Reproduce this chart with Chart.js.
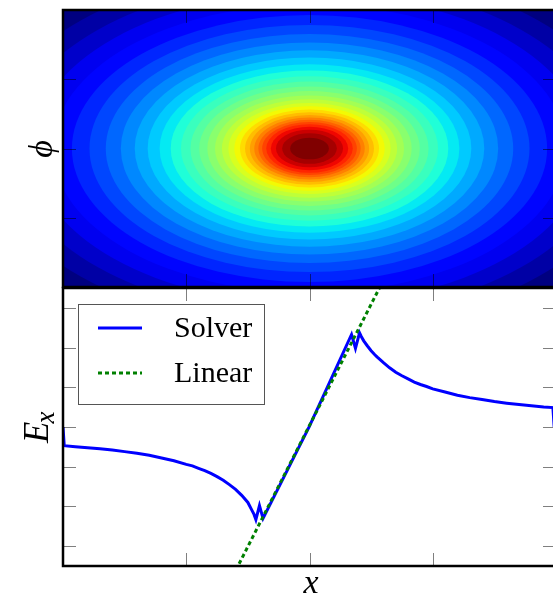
<!DOCTYPE html>
<html>
<head>
<meta charset="utf-8">
<script src="https://cdn.jsdelivr.net/npm/chart.js@4.4.1/dist/chart.umd.min.js"></script>
<style>
  html, body { margin: 0; padding: 0; background: #fff; overflow: hidden; }
  #wrap { position: relative; width: 553px; height: 595px; overflow: hidden; }
  canvas { position: absolute; left: 0; top: 0; }
</style>
</head>
<body>
<div id="wrap">
  <canvas id="phiChart" width="600" height="595"></canvas>
  <canvas id="exChart" width="600" height="595"></canvas>
</div>
<script>
// ===================== Data =====================
// top panel: filled contours of phi, outer radius of each band (band 0 fills the rest)
const phiCenter = [0, 0];
const contourRadii = [2.620, 2.427, 2.247, 2.081, 1.928, 1.785, 1.653, 1.531, 1.418, 1.313,
  1.216, 1.126, 1.043, 0.966, 0.895, 0.829, 0.767, 0.711, 0.658, 0.610,
  0.564, 0.523, 0.484, 0.448, 0.415, 0.384, 0.351, 0.314, 0.272, 0.222, 0.157];
const phiXTicks = [-1, 0, 1];
const phiYTicks = [-1, 0, 1];

// bottom panel: E_x along x
const solverX = [-2.0, -1.99, -1.9, -1.8, -1.7, -1.6, -1.5, -1.4, -1.3, -1.2, -1.1, -1.0,
  -0.95, -0.9, -0.85, -0.8, -0.75, -0.7, -0.65, -0.6, -0.55, -0.5, -0.47, -0.45,
  -0.435, -0.406, -0.377, 0.0, 0.341, 0.373, 0.406, 0.42, 0.44, 0.47, 0.5, 0.53, 0.55,
  0.6, 0.65, 0.7, 0.75, 0.8, 0.85, 0.9, 0.95, 1.0, 1.1, 1.2, 1.3, 1.4, 1.5, 1.6, 1.7,
  1.8, 1.9, 1.975, 1.985];
const solverY = [0.0, -0.47, -0.495, -0.52, -0.55, -0.58, -0.62, -0.66, -0.71, -0.78, -0.85, -0.94,
  -0.98, -1.04, -1.10, -1.17, -1.25, -1.34, -1.45, -1.57, -1.72, -1.90, -2.08, -2.20,
  -2.33, -1.98, -2.30, 0.02, 2.33, 1.98, 2.37, 2.28, 2.17, 2.04, 1.92, 1.82, 1.76,
  1.62, 1.49, 1.38, 1.29, 1.21, 1.13, 1.07, 1.02, 0.96, 0.88, 0.80, 0.74, 0.69, 0.64, 0.60, 0.565,
  0.535, 0.505, 0.49, 0.0];
const linearX = [-0.7, 0.7];
const linearY = [-4.23, 4.31];
const exXTicks = [-1, 0, 1];
const exYTicks = [-3, -2, -1, 0, 1, 2, 3];

// ===================== Helpers =====================
const JET = {
  r: [[0, 0], [0.35, 0], [0.66, 1], [0.89, 1], [1, 0.5]],
  g: [[0, 0], [0.125, 0], [0.375, 1], [0.64, 1], [0.91, 0], [1, 0]],
  b: [[0, 0.5], [0.11, 1], [0.34, 1], [0.65, 0], [1, 0]]
};
function interp(pts, t) {
  for (let i = 1; i < pts.length; i++) {
    if (t <= pts[i][0]) {
      const [x0, y0] = pts[i - 1], [x1, y1] = pts[i];
      return y0 + (y1 - y0) * (t - x0) / (x1 - x0);
    }
  }
  return pts[pts.length - 1][1];
}
function jet(t) {
  const c = k => Math.round(255 * interp(JET[k], t));
  return `rgb(${c('r')},${c('g')},${c('b')})`;
}

function framePlugin(id, xTicks, yTicks) {
  return {
    id,
    afterDatasetsDraw(chart) {
      const { ctx, chartArea: a, scales: { x, y } } = chart;
      ctx.save();
      ctx.strokeStyle = 'rgba(0,0,0,0.5)';
      ctx.lineWidth = 1;
      ctx.beginPath();
      xTicks.forEach(v => {
        const px = Math.round(x.getPixelForValue(v)) + 0.5;
        ctx.moveTo(px, a.top); ctx.lineTo(px, a.top + 13);
        ctx.moveTo(px, a.bottom); ctx.lineTo(px, a.bottom - 13);
      });
      yTicks.forEach(v => {
        const py = Math.round(y.getPixelForValue(v)) + 0.5;
        ctx.moveTo(a.left, py); ctx.lineTo(a.left + 13, py);
        ctx.moveTo(a.right, py); ctx.lineTo(a.right - 13, py);
      });
      ctx.stroke();
      ctx.strokeStyle = '#000';
      ctx.lineWidth = 2.5;
      ctx.strokeRect(a.left, a.top, a.right - a.left, a.bottom - a.top);
      ctx.restore();
    }
  };
}

// ===================== Contour plugin =====================
const contourPlugin = {
  id: 'contour',
  beforeDatasetsDraw(chart) {
    const { ctx, chartArea: a, scales: { x, y } } = chart;
    const cx = x.getPixelForValue(phiCenter[0]);
    const cy = y.getPixelForValue(phiCenter[1]);
    const n = contourRadii.length;
    ctx.save();
    ctx.beginPath();
    ctx.rect(a.left, a.top, a.right - a.left, a.bottom - a.top);
    ctx.clip();
    ctx.fillStyle = jet(0);
    ctx.fillRect(a.left, a.top, a.right - a.left, a.bottom - a.top);
    contourRadii.forEach((r, i) => {
      const rx = x.getPixelForValue(phiCenter[0] + r) - cx;
      const ry = cy - y.getPixelForValue(phiCenter[1] + r);
      ctx.fillStyle = jet((i + 1) / n);
      ctx.beginPath();
      ctx.ellipse(cx, cy, rx, ry, 0, 0, Math.PI * 2);
      ctx.fill();
    });
    ctx.restore();
  }
};

const phiLabel = {
  id: 'phiLabel',
  afterDraw(chart) {
    const ctx = chart.ctx;
    ctx.save();
    ctx.fillStyle = '#000';
    ctx.font = 'italic 34px "Liberation Serif", "DejaVu Serif", serif';
    ctx.translate(43, 149);
    ctx.rotate(-Math.PI / 2);
    ctx.textAlign = 'center';
    ctx.textBaseline = 'middle';
    ctx.fillText('\u03d5', 0, 0);
    ctx.restore();
  }
};

// ===================== Ex labels + legend =====================
const exDecor = {
  id: 'exDecor',
  afterDraw(chart) {
    const ctx = chart.ctx;
    ctx.save();
    ctx.fillStyle = '#000';
    // y label E_x
    ctx.save();
    ctx.translate(48, 443);
    ctx.rotate(-Math.PI / 2);
    ctx.textBaseline = 'alphabetic';
    ctx.font = 'italic 35px "Liberation Serif", serif';
    ctx.fillText('E', 0, 0);
    const w = ctx.measureText('E').width;
    ctx.font = 'italic 27px "Liberation Serif", serif';
    ctx.fillText('x', w - 2, 6);
    ctx.restore();
    // x label
    ctx.font = 'italic 34px "Liberation Serif", serif';
    ctx.textAlign = 'center';
    ctx.textBaseline = 'alphabetic';
    ctx.fillText('x', 311, 593);

    // legend
    ctx.fillStyle = '#fff';
    ctx.fillRect(78.5, 304.5, 186, 100);
    ctx.strokeStyle = '#555';
    ctx.lineWidth = 1;
    ctx.strokeRect(78.5, 304.5, 186, 100);
    const rows = [328, 373];
    chart.data.datasets.forEach((ds, i) => {
      ctx.strokeStyle = ds.borderColor;
      ctx.lineWidth = ds.borderWidth;
      ctx.setLineDash(ds.borderDash || []);
      ctx.beginPath();
      ctx.moveTo(98, rows[i]);
      ctx.lineTo(142, rows[i]);
      ctx.stroke();
      ctx.setLineDash([]);
      ctx.fillStyle = '#000';
      ctx.font = '30px "Liberation Serif", serif';
      ctx.textAlign = 'left';
      ctx.textBaseline = 'middle';
      ctx.fillText(ds.label, 174, rows[i] + 1);
    });
    ctx.restore();
  }
};

// ===================== Charts =====================
new Chart(document.getElementById('phiChart'), {
  type: 'scatter',
  data: { datasets: [] },
  options: {
    responsive: false,
    animation: false,
    layout: { padding: { left: 63, top: 10, right: 44, bottom: 308 } },
    plugins: { legend: { display: false }, tooltip: { enabled: false } },
    scales: {
      x: { type: 'linear', min: -2, max: 2, display: false },
      y: { type: 'linear', min: -2, max: 2, display: false }
    }
  },
  plugins: [contourPlugin, framePlugin('phiFrame', phiXTicks, phiYTicks), phiLabel]
});

new Chart(document.getElementById('exChart'), {
  type: 'line',
  data: {
    datasets: [
      {
        label: 'Solver',
        data: solverX.map((x, i) => ({ x, y: solverY[i] })),
        borderColor: '#0000ff',
        borderWidth: 3,
        pointRadius: 0,
        tension: 0,
        order: 1
      },
      {
        label: 'Linear',
        data: linearX.map((x, i) => ({ x, y: linearY[i] })),
        borderColor: '#008000',
        borderWidth: 3,
        borderDash: [4, 3],
        pointRadius: 0,
        clip: 0,
        order: 0
      }
    ]
  },
  options: {
    responsive: false,
    animation: false,
    layout: { padding: { left: 63, top: 288, right: 44, bottom: 29 } },
    plugins: { legend: { display: false }, tooltip: { enabled: false } },
    scales: {
      x: { type: 'linear', min: -2, max: 2, display: false },
      y: { type: 'linear', min: -3.5, max: 3.5, display: false }
    }
  },
  plugins: [framePlugin('exFrame', exXTicks, exYTicks), exDecor]
});
</script>
</body>
</html>
